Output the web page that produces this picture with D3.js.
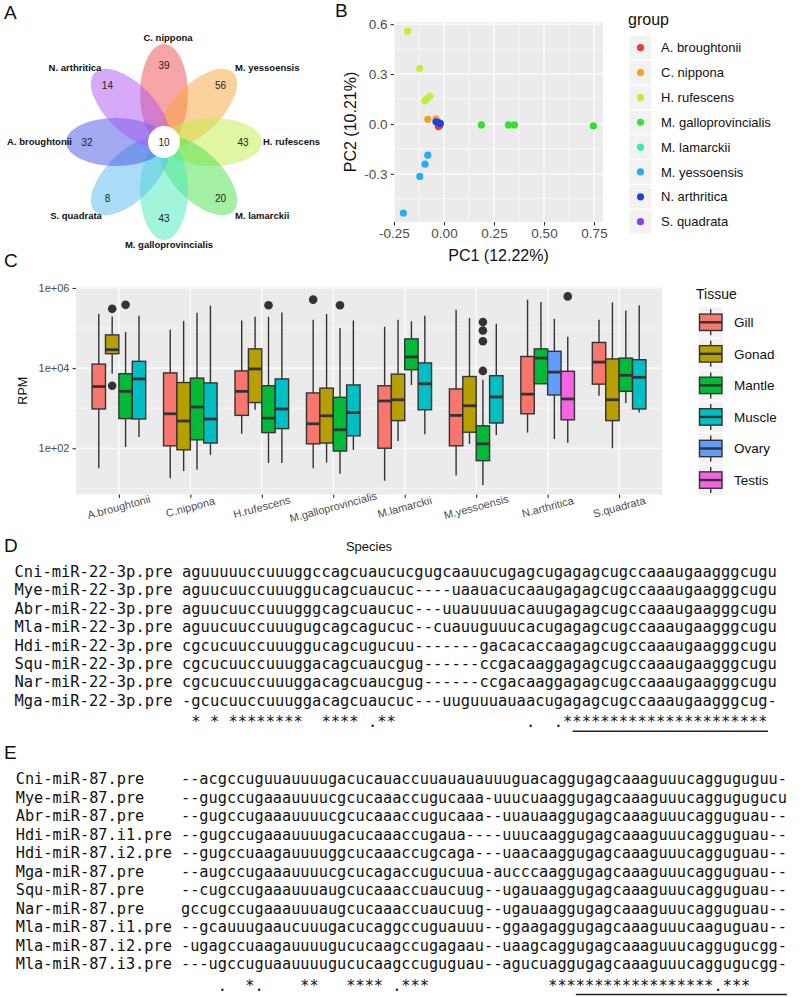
<!DOCTYPE html>
<html><head><meta charset="utf-8">
<script src="https://cdn.jsdelivr.net/npm/d3@7"></script>
<style>body{margin:0;background:#fff}svg{display:block}text.mono{white-space:pre}</style>
</head><body>
<svg id="c" width="800" height="997"></svg>
<script>
// ---------------- Panel A : flower Venn ----------------
const vennSpecies = ["C. nippona","M. yessoensis","H. rufescens","M. lamarckii","M. galloprovincialis","S. quadrata","A. broughtonii","N. arthritica"];
const vennUnique = [39,56,43,20,43,8,32,14];
const vennCore = 10;
const vennColors = ["#ee4b4b","#f9a63a","#c3ee45","#48e048","#45eab5","#55b9f2","#4654e4","#ad55f2"];

// ---------------- Panel B : PCA ----------------
const pcaGroups = ["A. broughtonii","C. nippona","H. rufescens","M. galloprovincialis","M. lamarckii","M. yessoensis","N. arthritica","S. quadrata"];
const pcaColors = ["#f23a2a","#f5a021","#bdf03a","#33e033","#35eeaa","#26aef2","#1f3fe6","#8c3df0"];
const pcaGroup = [4,7,7,4,2,2,2,2,2,1,3,3,3,3,5,5,5,5,0,0,0,1,6,6,6];
const pc1 = [-0.024,-0.022,-0.026,-0.02,-0.182,-0.122,-0.095,-0.086,-0.071,-0.081,0.187,0.322,0.352,0.747,-0.081,-0.095,-0.121,-0.203,-0.028,-0.022,-0.026,-0.040,-0.040,-0.030,-0.019];
const pc2 = [0.000,-0.004,0.002,0.004,0.558,0.334,0.138,0.150,0.166,0.028,-0.006,-0.006,-0.006,-0.012,-0.188,-0.242,-0.316,-0.536,-0.016,-0.010,-0.004,0.030,0.013,0.009,0.003];
const pcaXTicks = [-0.25,0,0.25,0.5,0.75];
const pcaYTicks = [-0.3,0,0.3,0.6];

// ---------------- Panel C : boxplots (log10 RPM) ----------------
const species = ["A.broughtonii","C.nippona","H.rufescens","M.galloprovincialis","M.lamarckii","M.yessoensis","N.arthritica","S.quadrata"];
const tissues = ["Gill","Gonad","Mantle","Muscle","Ovary","Testis"];
const tissueColors = ["#F8766D","#B79F00","#00BA38","#00BFC4","#619CFF","#F564E3"];
const boxSpecies = [0,0,0,0,1,1,1,1,2,2,2,2,3,3,3,3,4,4,4,4,5,5,5,5,6,6,6,6,7,7,7,7];
const boxTissue  = [0,1,2,3,0,1,2,3,0,1,2,3,0,1,2,3,0,1,2,3,0,1,2,3,0,2,4,5,0,1,2,3];
const whiskerLow = [1.50,3.86,2.03,2.28, 1.25,1.43,1.46,1.83, 2.36,2.96,1.63,1.63, 1.50,1.64,1.36,1.96, 1.19,2.18,3.58,2.35, 1.32,2.11,1.08,2.33, 2.39,3.61,2.23,2.14, 3.31,2.00,3.13,2.89];
const q1         = [2.98,4.36,2.74,2.73, 2.06,1.96,2.21,2.13, 2.82,3.14,2.39,2.49, 2.11,2.13,1.93,2.31, 2.00,2.69,3.96,2.96, 2.06,2.40,1.69,2.63, 2.86,3.61,3.33,2.71, 3.60,2.69,3.42,2.98];
const median     = [3.54,4.46,3.42,3.73, 2.86,2.68,3.03,2.73, 3.42,3.98,2.75,2.98, 2.61,2.81,2.46,2.89, 3.18,3.21,4.28,3.61, 2.82,3.06,2.11,3.28, 3.35,4.25,3.90,3.23, 4.15,3.21,3.82,3.77];
const q3         = [4.10,4.83,3.86,4.17, 3.88,3.64,3.75,3.63, 3.93,4.48,3.56,3.73, 3.38,3.50,3.27,3.58, 3.56,3.85,4.73,4.13, 3.48,3.79,2.56,3.81, 4.29,4.48,4.42,3.92, 4.64,4.23,4.25,4.21];
const whiskerHigh= [5.36,5.29,4.90,5.31, 4.96,5.18,5.38,5.56, 5.19,5.28,5.28,5.39, 5.21,5.35,5.00,5.19, 5.03,5.21,5.17,5.31, 5.46,5.25,3.71,5.11, 5.71,5.65,5.23,4.78, 5.21,5.64,5.44,5.57];
const outlierBox = [1,1,2,10,12,14,22,22,22,22,27];
const outlierVal = [5.48,3.56,5.58,5.57,5.71,5.57,5.15,4.94,4.67,3.93,5.79];
const rpmTicks = [1e2,1e4,1e6];
const rpmMinor = [1e1,1e3,1e5];

// ---------------- Panel D / E : alignments ----------------
const namesD = ["Cni-miR-22-3p.pre","Mye-miR-22-3p.pre","Abr-miR-22-3p.pre","Mla-miR-22-3p.pre","Hdi-miR-22-3p.pre","Squ-miR-22-3p.pre","Nar-miR-22-3p.pre","Mga-miR-22-3p.pre"];
const seqD = [
"aguuuuuccuuuggccagcuaucucgugcaauucugagcugagagcugccaaaugaagggcugu",
"aguucuuccuuuggucagcuaucuc----uaauacucaaugagagcugccaaaugaagggcugu",
"aguucuuccuuugggcagcuaucuc---uuauuuuacauugagagcugccaaaugaagggcugu",
"aguucuuccuuugugcagcagucuc--cuauuguuucacugagagcugccaaaugaagggcugu",
"cgcucuuccuuuggucagcugucuu-------gacacaccaagagcugccaaaugaagggcugu",
"cgcucuuccuuuggacagcuaucgug------ccgacaaggagagcugccaaaugaagggcugu",
"cgcucuuccuuuggacagcuaucgug------ccgacaaggagagcugccaaaugaagggcugu",
"-gcucuuccuuuggacagcuaucuc---uuguuuauaacugagagcugccaaaugaagggcug-"];
const consD = " * * ********  **** .**              .  .********************** ";
const matureD = [43,64];
const namesE = ["Cni-miR-87.pre","Mye-miR-87.pre","Abr-miR-87.pre","Hdi-miR-87.i1.pre","Hdi-miR-87.i2.pre","Mga-miR-87.pre","Squ-miR-87.pre","Nar-miR-87.pre","Mla-miR-87.i1.pre","Mla-miR-87.i2.pre","Mla-miR-87.i3.pre"];
const seqE = [
"--acgccuguuauuuugacucauaccuuauauauuuguacaggugagcaaaguuucagguguguu-",
"--gugccugaaauuuucgcucaaaccugucaaa-uuucuaaggugagcaaaguuucaggugugucu",
"--gugccugaaauuuucgcucaaaccugucaaa--uuauaaggugagcaaaguuucagguguau--",
"--gugccugaaauuuugacucaaaccugaua----uuucaaggugagcaaaguuucagguguau--",
"--gugccuaagauuuuggcucaaaccugcaga---uaacaaggugagcaaaguuucagguguau--",
"--augccugaaauuuucgcucagaccugucuua-aucccaaggugagcaaaguuucagguguau--",
"--cugccugaaauuuaugcucaaaccuaucuug--ugauaaggugagcaaaguuucagguguau--",
"gccugccugaaauuuaugcucaaaccuaucuug--ugauaaggugagcaaaguuucagguguau--",
"--gcauuugaaucuuugacucaggccuguauuu--ggaagaggugagcaaaguuucaaguguau--",
"-ugagccuaagauuuugucucaagccugagaau--uaagcaggugagcaaaguuucaggugucgg-",
"---ugccuguaauuuugucucaagccuguguau--agucuaggugagcaaaguuucaggugucgg-"];
const consE = "    .  *.    **   **** .***             ******************.***    ";
const matureE = [44,67];

// =============================================================
const svg = d3.select("#c");
const SANS = "'Liberation Sans', Arial, Helvetica, sans-serif";
const MONO = "'DejaVu Sans Mono', monospace";

// panel letters
[["A",4,19],["B",335,17],["C",4,267],["D",4,552],["E",4,759]].forEach(([t,x,y])=>{
  svg.append("text").attr("x",x).attr("y",y).attr("font-family",SANS).attr("font-size",19).attr("fill","#111").text(t);
});

// ---------- A ----------
(function(){
  const cx=164, cy=142;
  const ang = d3.scaleLinear().domain([0,8]).range([-90,270]);
  const g = svg.append("g");
  vennSpecies.forEach((s,i)=>{
    g.append("ellipse").attr("rx",50).attr("ry",24)
      .attr("transform",`translate(${cx},${cy}) rotate(${ang(i)}) translate(48,0)`)
      .attr("fill",vennColors[i]).attr("fill-opacity",0.5);
  });
  g.append("circle").attr("cx",cx).attr("cy",cy).attr("r",16).attr("fill","#fff");
  const rad = [77,80,79,80,76,80,77,80];
  vennUnique.forEach((v,i)=>{
    const a = ang(i)*Math.PI/180;
    g.append("text").attr("x",cx+rad[i]*Math.cos(a)).attr("y",cy+rad[i]*Math.sin(a)+3.5)
      .attr("text-anchor","middle").attr("font-family",SANS).attr("font-size",10).attr("fill","#222").text(v);
  });
  g.append("text").attr("x",cx).attr("y",cy+3.5).attr("text-anchor","middle").attr("font-family",SANS).attr("font-size",10).attr("fill","#222").text(vennCore);
  const lab = [[168,38,"middle"],[235,68,"start"],[263,142,"start"],[235,216,"start"],[169,245,"middle"],[76,216,"middle"],[72,142,"end"],[75,68,"middle"]];
  vennSpecies.forEach((s,i)=>{
    g.append("text").attr("x",lab[i][0]).attr("y",lab[i][1]+3.3).attr("text-anchor",lab[i][2])
      .attr("font-family",SANS).attr("font-size",9.5).attr("font-weight","bold").attr("fill","#111").text(s);
  });
})();

// ---------- B ----------
(function(){
  const L=394,R=603,T=22,B=222;
  const x = d3.scaleLinear().domain([-0.25,0.795]).range([L,R]);
  const y = d3.scaleLinear().domain([-0.59,0.613]).range([B,T]);
  const g = svg.append("g");
  g.append("rect").attr("x",L).attr("y",T).attr("width",R-L).attr("height",B-T).attr("fill","#EBEBEB");
  const xMinor=[-0.125,0.125,0.375,0.625], yMinor=[-0.45,-0.15,0.15,0.45];
  xMinor.forEach(v=>g.append("line").attr("x1",x(v)).attr("x2",x(v)).attr("y1",T).attr("y2",B).attr("stroke","#fff").attr("stroke-width",0.6));
  yMinor.forEach(v=>g.append("line").attr("y1",y(v)).attr("y2",y(v)).attr("x1",L).attr("x2",R).attr("stroke","#fff").attr("stroke-width",0.6));
  pcaXTicks.forEach(v=>g.append("line").attr("x1",x(v)).attr("x2",x(v)).attr("y1",T).attr("y2",B).attr("stroke","#fff").attr("stroke-width",1.2));
  pcaYTicks.forEach(v=>g.append("line").attr("y1",y(v)).attr("y2",y(v)).attr("x1",L).attr("x2",R).attr("stroke","#fff").attr("stroke-width",1.2));
  const ax = g.append("g").attr("transform",`translate(0,${B})`).call(d3.axisBottom(x).tickValues(pcaXTicks).tickSize(3.5).tickPadding(3).tickFormat(d=>d.toFixed(2)));
  const ay = g.append("g").attr("transform",`translate(${L},0)`).call(d3.axisLeft(y).tickValues(pcaYTicks).tickSize(3.5).tickPadding(3).tickFormat(d=>d.toFixed(1)));
  [ax,ay].forEach(a=>{a.select(".domain").remove();a.selectAll("line").attr("stroke","#333").attr("stroke-width",1.1);
    a.selectAll("text").attr("font-family",SANS).attr("font-size",13.5).attr("fill","#4D4D4D");});
  pc1.forEach((v,i)=>{
    g.append("circle").attr("cx",x(v)).attr("cy",y(pc2[i])).attr("r",3.6).attr("fill",pcaColors[pcaGroup[i]]);
  });
  g.append("text").attr("x",(L+R)/2).attr("y",261).attr("text-anchor","middle").attr("font-family",SANS).attr("font-size",16).attr("fill","#111").text("PC1 (12.22%)");
  g.append("text").attr("transform",`translate(356,${(T+B)/2}) rotate(-90)`).attr("text-anchor","middle").attr("font-family",SANS).attr("font-size",16).attr("fill","#111").text("PC2 (10.21%)");
  // legend
  g.append("text").attr("x",628).attr("y",25).attr("font-family",SANS).attr("font-size",16).attr("fill","#111").text("group");
  pcaGroups.forEach((s,i)=>{
    const cyk = 47.7 + i*24.85;
    g.append("rect").attr("x",629).attr("y",cyk-12.4).attr("width",23).attr("height",24.8).attr("fill","#F2F2F2").attr("stroke","#fff").attr("stroke-width",1);
    g.append("circle").attr("cx",640.5).attr("cy",cyk).attr("r",3.6).attr("fill",pcaColors[i]);
    g.append("text").attr("x",661).attr("y",cyk+4.6).attr("font-family",SANS).attr("font-size",13).attr("fill","#111").text(s);
  });
})();

// ---------- C ----------
(function(){
  const L=76,R=662,T=287,B=494.5;
  const x = d3.scalePoint().domain(species).range([L,R]).padding(0.6);
  const step = x.step();
  const inner = d3.scaleBand().domain([0,1,2,3]).range([-0.375*step,0.375*step]);
  const y = d3.scaleLog().domain([Math.pow(10,0.845),Math.pow(10,6.025)]).range([B,T]);
  const g = svg.append("g");
  g.append("rect").attr("x",L).attr("y",T).attr("width",R-L).attr("height",B-T).attr("fill","#EBEBEB");
  rpmMinor.forEach(v=>g.append("line").attr("x1",L).attr("x2",R).attr("y1",y(v)).attr("y2",y(v)).attr("stroke","#fff").attr("stroke-width",0.6));
  rpmTicks.forEach(v=>g.append("line").attr("x1",L).attr("x2",R).attr("y1",y(v)).attr("y2",y(v)).attr("stroke","#fff").attr("stroke-width",1.2));
  species.forEach(s=>g.append("line").attr("x1",x(s)).attr("x2",x(s)).attr("y1",T).attr("y2",B).attr("stroke","#fff").attr("stroke-width",1.2));
  const ay = g.append("g").attr("transform",`translate(${L},0)`).call(d3.axisLeft(y).tickValues(rpmTicks).tickSize(3.5).tickPadding(3)
    .tickFormat(d=>"1e+"+String(Math.round(Math.log10(d))).padStart(2,"0")));
  const ax = g.append("g").attr("transform",`translate(0,${B})`).call(d3.axisBottom(x).tickSize(3.5).tickFormat(""));
  [ax,ay].forEach(a=>{a.select(".domain").remove();a.selectAll("line").attr("stroke","#333").attr("stroke-width",1.1);});
  ay.selectAll("text").attr("font-family",SANS).attr("font-size",11).attr("fill","#4D4D4D");
  species.forEach(s=>{
    g.append("text").attr("transform",`translate(${x(s)},${507}) rotate(-15)`).attr("text-anchor","middle").attr("dy","0.35em")
      .attr("font-family",SANS).attr("font-size",11).attr("fill","#4D4D4D").text(s);
  });
  // boxes
  const lw = 1.4;
  boxSpecies.forEach((si,i)=>{
    const slot = boxSpecies.slice(0,i).filter(v=>v===si).length;
    const x0 = x(species[si]) + inner(slot), w = inner.bandwidth(), xm = x0 + w/2;
    const v = k=>y(Math.pow(10,k));
    g.append("line").attr("x1",xm).attr("x2",xm).attr("y1",v(whiskerHigh[i])).attr("y2",v(q3[i])).attr("stroke","#333").attr("stroke-width",lw);
    g.append("line").attr("x1",xm).attr("x2",xm).attr("y1",v(q1[i])).attr("y2",v(whiskerLow[i])).attr("stroke","#333").attr("stroke-width",lw);
    g.append("rect").attr("x",x0).attr("y",v(q3[i])).attr("width",w).attr("height",v(q1[i])-v(q3[i]))
      .attr("fill",tissueColors[boxTissue[i]]).attr("stroke","#333").attr("stroke-width",lw);
    g.append("line").attr("x1",x0).attr("x2",x0+w).attr("y1",v(median[i])).attr("y2",v(median[i])).attr("stroke","#333").attr("stroke-width",2.8);
  });
  outlierBox.forEach((bi,k)=>{
    const si = boxSpecies[bi];
    const slot = boxSpecies.slice(0,bi).filter(v=>v===si).length;
    const xm = x(species[si]) + inner(slot) + inner.bandwidth()/2;
    g.append("circle").attr("cx",xm).attr("cy",y(Math.pow(10,outlierVal[k]))).attr("r",4.3).attr("fill","#333");
  });
  g.append("text").attr("x",(L+R)/2).attr("y",551).attr("text-anchor","middle").attr("font-family",SANS).attr("font-size",13).attr("fill","#111").text("Species");
  g.append("text").attr("transform",`translate(27,${(T+B)/2}) rotate(-90)`).attr("text-anchor","middle").attr("font-family",SANS).attr("font-size",12.5).attr("fill","#111").text("RPM");
  // legend
  g.append("text").attr("x",696).attr("y",299).attr("font-family",SANS).attr("font-size",14).attr("fill","#111").text("Tissue");
  tissues.forEach((t,i)=>{
    const cyk = 322.3 + i*31.55;
    g.append("rect").attr("x",698).attr("y",cyk-15.7).attr("width",25.5).attr("height",31.4).attr("fill","#F2F2F2").attr("stroke","#fff").attr("stroke-width",1);
    g.append("line").attr("x1",710.7).attr("x2",710.7).attr("y1",cyk-13).attr("y2",cyk+13).attr("stroke","#333").attr("stroke-width",lw);
    g.append("rect").attr("x",699.5).attr("y",cyk-8.2).attr("width",22.5).attr("height",16.4).attr("fill",tissueColors[i]).attr("stroke","#333").attr("stroke-width",lw);
    g.append("line").attr("x1",699.5).attr("x2",722).attr("y1",cyk).attr("y2",cyk).attr("stroke","#333").attr("stroke-width",2.4);
    g.append("text").attr("x",734).attr("y",cyk+4.8).attr("font-family",SANS).attr("font-size",13.5).attr("fill","#111").text(t);
  });
})();

// ---------- D / E ----------
function alignment(names, seqs, cons, mature, y0, dy, fs, sx){
  const cw = fs*0.60205, x0 = sx - 18*cw;
  const g = svg.append("g").attr("font-family",MONO).attr("font-size",fs).attr("fill","#111");
  names.forEach((n,i)=>{
    g.append("text").attr("class","mono").attr("x",x0).attr("y",y0+i*dy+5).text(n);
    g.append("text").attr("class","mono").attr("x",sx).attr("y",y0+i*dy+5).text(seqs[i]);
  });
  const yc = y0 + names.length*dy;
  g.append("text").attr("class","mono").attr("x",sx).attr("y",yc+8).text(cons);
  g.append("line").attr("x1",sx+(mature[0]-1)*cw).attr("x2",sx+(mature[1]-1)*cw).attr("y1",yc+12).attr("y2",yc+12)
    .attr("stroke","#222").attr("stroke-width",1.6);
}
alignment(namesD, seqD, consD, matureD, 572, 18.4, 15.45, 182);
alignment(namesE, seqE, consE, matureE, 779, 18.5, 15.25, 181);
</script>
</body></html>
